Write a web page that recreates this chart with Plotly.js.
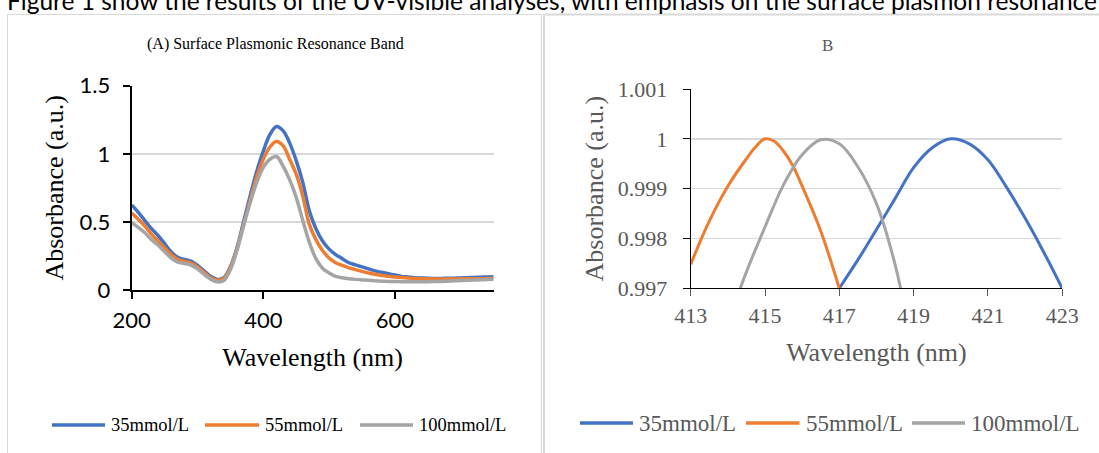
<!DOCTYPE html>
<html><head><meta charset="utf-8">
<script src="https://cdn.plot.ly/plotly-3.0.1.min.js"></script>
<style>html,body{margin:0;padding:0;background:#fff}#chart{width:1099px;height:453px}</style>
</head><body><div id="chart"></div>
<script>
// ---------- data ----------
const seriesNames = ['35mmol/L', '55mmol/L', '100mmol/L'];
const seriesColors = ['#4472C4', '#ED7D31', '#A5A5A5'];

const wavelengthA = [200,210,220,230,240,250,260,270,280,290,300,310,320,330,340,350,360,370,380,390,
  400,410,420,430,440,450,460,470,480,490,500,510,520,530,540,550,560,570,580,590,
  600,610,620,630,640,650,660,670,680,690,700,710,720,730,740,750];
const absA35 = [0.624,0.57,0.51,0.45,0.40,0.34,0.28,0.24,0.225,0.212,0.18,0.14,0.10,0.078,0.09,0.17,0.31,0.50,0.69,0.87,
  1.02,1.14,1.20,1.17,1.08,0.95,0.79,0.58,0.45,0.36,0.30,0.26,0.23,0.20,0.185,0.17,0.155,0.14,0.13,0.12,
  0.11,0.10,0.095,0.09,0.088,0.086,0.085,0.085,0.086,0.087,0.089,0.09,0.092,0.094,0.096,0.098];
const absA55 = [0.565,0.52,0.47,0.41,0.36,0.31,0.26,0.225,0.21,0.198,0.17,0.13,0.09,0.072,0.085,0.165,0.30,0.48,0.66,0.83,
  0.96,1.05,1.09,1.06,0.96,0.85,0.69,0.48,0.37,0.29,0.235,0.20,0.18,0.163,0.15,0.137,0.125,0.115,0.107,0.10,
  0.096,0.092,0.088,0.085,0.083,0.082,0.081,0.081,0.081,0.081,0.082,0.082,0.083,0.083,0.084,0.084];
const absA100 = [0.495,0.46,0.42,0.37,0.33,0.28,0.235,0.205,0.195,0.183,0.155,0.115,0.08,0.06,0.07,0.15,0.29,0.47,0.64,0.79,
  0.90,0.96,0.98,0.91,0.81,0.68,0.51,0.35,0.23,0.16,0.125,0.10,0.09,0.083,0.078,0.074,0.072,0.068,0.065,0.063,
  0.062,0.061,0.061,0.061,0.061,0.061,0.062,0.063,0.065,0.067,0.069,0.071,0.073,0.075,0.077,0.079];

const wavelengthB35 = [417,417.5,418,418.5,419,419.5,420,420.5,421,421.5,422,422.5,423];
const absB35 = [0.99700,0.99757,0.99818,0.99880,0.99942,0.99982,1.00000,0.99990,0.99958,0.99903,0.99841,0.99773,0.99700];
const wavelengthB55 = [413,413.5,414,414.5,414.75,415,415.25,415.5,415.75,416,416.5,417];
const absB55 = [0.99748,0.99835,0.99905,0.99960,0.99984,1.00000,0.99995,0.99975,0.99946,0.99905,0.99815,0.99700];
const wavelengthB100 = [414,414.5,415,415.5,416,416.5,417,417.5,418,418.5,419];
const absB100 = [0.99630,0.99733,0.99823,0.99908,0.99968,0.99998,0.99990,0.99944,0.99870,0.99748,0.99570];

const xTicksA = [200, 400, 600];
const yTicksA = [0, 0.5, 1, 1.5];
const yTickTextA = ['0', '0.5', '1', '1.5'];
const xTicksB = [413, 415, 417, 419, 421, 423];
const yTicksB = [0.997, 0.998, 0.999, 1, 1.001];
const yTickTextB = ['0.997', '0.998', '0.999', '1', '1.001'];

const titleA = '(A) Surface Plasmonic Resonance Band';
const titleB = 'B';
const xTitle = 'Wavelength (nm)';
const yTitle = 'Absorbance (a.u.)';
const headerText = 'Figure 1 show the results of the UV-visible analyses, with emphasis on the surface plasmon resonance';

// ---------- layout helpers ----------
const W = 1099, H = 453;
const px = x => x / W;
const py = y => 1 - y / H;
const SERIF = 'Liberation Serif, Times New Roman, serif';
const SANS = 'Lato, Open Sans, sans-serif';
const GRAY_TXT = '#595959';

const seriesA = [absA35, absA55, absA100];
const seriesBx = [wavelengthB35, wavelengthB55, wavelengthB100];
const seriesBy = [absB35, absB55, absB100];

const traces = [];
seriesNames.forEach((n, i) => {
  traces.push({x: wavelengthA, y: seriesA[i], name: n, type: 'scatter', mode: 'lines',
    line: {color: seriesColors[i], width: 3.5, shape: 'spline', smoothing: 1}, xaxis: 'x', yaxis: 'y', showlegend: false});
});
seriesNames.forEach((n, i) => {
  traces.push({x: seriesBx[i], y: seriesBy[i], name: n, type: 'scatter', mode: 'lines',
    line: {color: seriesColors[i], width: 3, shape: 'spline', smoothing: 1}, xaxis: 'x2', yaxis: 'y2', showlegend: false});
});

const shapes = [
  {type: 'rect', xref: 'paper', yref: 'paper', x0: px(7.5), x1: px(541.5), y0: py(470), y1: py(14.5),
    line: {color: '#D9D9D9', width: 1}},
  {type: 'rect', xref: 'paper', yref: 'paper', x0: px(544), x1: px(1120), y0: py(470), y1: py(14.5),
    line: {color: '#D9D9D9', width: 2}}
];
const annotations = [
  {text: headerText, xref: 'paper', yref: 'paper', x: px(5), y: py(17), xanchor: 'left', yanchor: 'bottom',
    showarrow: false, font: {family: SANS, size: 24.5, color: '#000'}},
  {text: titleA, xref: 'paper', yref: 'paper', x: px(275), y: py(44), xanchor: 'center', yanchor: 'middle',
    showarrow: false, font: {family: SERIF, size: 16, color: '#000'}},
  {text: titleB, xref: 'paper', yref: 'paper', x: px(827), y: py(46), xanchor: 'center', yanchor: 'middle',
    showarrow: false, font: {family: SERIF, size: 17, color: GRAY_TXT}}
];

// custom legends (one per panel)
const legA = {y: 425, lines: [[52, 105], [205, 259], [360, 413]], size: 18.5, color: '#000'};
const legB = {y: 423, lines: [[580, 633], [746, 799.5], [912, 965]], size: 23, color: GRAY_TXT};
[legA, legB].forEach(L => {
  seriesNames.forEach((n, i) => {
    shapes.push({type: 'line', xref: 'paper', yref: 'paper', x0: px(L.lines[i][0]), x1: px(L.lines[i][1]),
      y0: py(L.y), y1: py(L.y), line: {color: seriesColors[i], width: 3.5}});
    annotations.push({text: n, xref: 'paper', yref: 'paper', x: px(L.lines[i][1] + 4), y: py(L.y),
      xanchor: 'left', yanchor: 'middle', showarrow: false, font: {family: SERIF, size: L.size, color: L.color}});
  });
});

const layout = {
  width: W, height: H, margin: {l: 0, r: 0, t: 0, b: 0}, paper_bgcolor: '#fff', plot_bgcolor: '#fff',
  showlegend: false,
  xaxis: {domain: [px(131.7), px(493.6)], range: [200, 750], tickvals: xTicksA, anchor: 'y',
    ticks: 'outside', ticklen: 7, tickwidth: 2, tickcolor: '#000', showline: true, linewidth: 2, linecolor: '#000',
    showgrid: false, zeroline: false, ticklabelstandoff: 3,
    tickfont: {family: SANS, size: 22, color: '#000'},
    title: {text: xTitle, font: {family: SERIF, size: 26, color: '#000'}, standoff: 15}},
  yaxis: {domain: [py(290), py(85.7)], range: [0, 1.5], tickvals: yTicksA, ticktext: yTickTextA, anchor: 'x',
    ticks: 'outside', ticklen: 7, tickwidth: 2, tickcolor: '#000', showline: true, linewidth: 2, linecolor: '#000',
    showgrid: true, gridcolor: '#D9D9D9', gridwidth: 1.5, zeroline: false, ticklabelstandoff: 8,
    tickfont: {family: SANS, size: 22, color: '#000'},
    title: {text: yTitle, font: {family: SERIF, size: 26, color: '#000'}, standoff: 8}},
  xaxis2: {domain: [px(690.7), px(1062.2)], range: [413, 423], tickvals: xTicksB, anchor: 'y2',
    ticks: 'outside', ticklen: 7, tickwidth: 1, tickcolor: '#595959', showline: true, linewidth: 1, linecolor: '#000',
    showgrid: false, zeroline: false,
    tickfont: {family: SERIF, size: 22, color: GRAY_TXT},
    title: {text: xTitle, font: {family: SERIF, size: 26, color: GRAY_TXT}, standoff: 16}},
  yaxis2: {domain: [py(288.3), py(89)], range: [0.997, 1.001], tickvals: yTicksB, ticktext: yTickTextB, anchor: 'x2',
    ticks: 'outside', ticklen: 7, tickwidth: 1, tickcolor: '#000', showline: true, linewidth: 1, linecolor: '#000',
    showgrid: true, gridcolor: '#D9D9D9', gridwidth: 1.5, zeroline: false, ticklabelstandoff: 11,
    tickfont: {family: SERIF, size: 22, color: GRAY_TXT},
    title: {text: yTitle, font: {family: SERIF, size: 26, color: GRAY_TXT}, standoff: 6}},
  shapes: shapes, annotations: annotations
};
Plotly.newPlot('chart', traces, layout, {staticPlot: true, displayModeBar: false});
</script></body></html>
